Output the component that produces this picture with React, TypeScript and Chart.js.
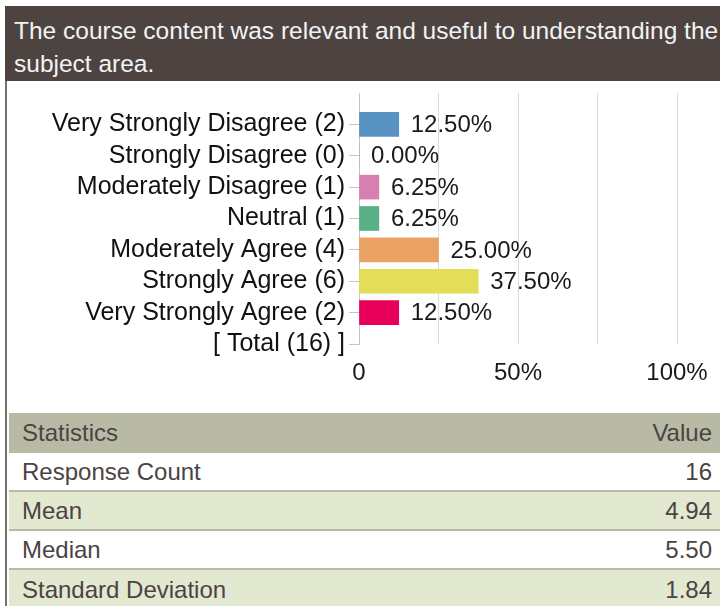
import React, { useEffect, useRef } from "react";
import { Chart, registerables } from "chart.js";

Chart.register(...registerables);

const titleText = "The course content was relevant and useful to understanding the subject area.";

const answerNames = [
  "Very Strongly Disagree",
  "Strongly Disagree",
  "Moderately Disagree",
  "Neutral",
  "Moderately Agree",
  "Strongly Agree",
  "Very Strongly Agree",
];
const answerCounts = [2, 0, 1, 1, 4, 6, 2];
const answerPercents = [12.5, 0, 6.25, 6.25, 25, 37.5, 12.5];
const totalCount = 16;
const barColors = ["#5792c2", "#9aa6d8", "#d97fb0", "#58b185", "#eaa264", "#e3dd58", "#e8005b"];

const xTickValues = [0, 25, 50, 75, 100];
const xTickLabels = ["0", "", "50%", "", "100%"];

const statNames = ["Response Count", "Mean", "Median", "Standard Deviation"];
const statValues = ["16", "4.94", "5.50", "1.84"];

const FONT = '"Liberation Sans", Arial, Helvetica, sans-serif';

const valueLabelPlugin = {
  id: "valueLabels",
  afterDatasetsDraw(chart: any) {
    const ctx = chart.ctx;
    const meta = chart.getDatasetMeta(0);
    const data = chart.data.datasets[0].data;
    ctx.save();
    ctx.font = `24px ${FONT}`;
    ctx.fillStyle = "#1a1a1a";
    ctx.textAlign = "left";
    ctx.textBaseline = "middle";
    meta.data.forEach((el: any, i: number) => {
      const v = data[i];
      if (v === null || v === undefined) return;
      ctx.fillText(`${Number(v).toFixed(2)}%`, el.x + 12, el.y + 1);
    });
    ctx.restore();
  },
};

function BarChart() {
  const ref = useRef<HTMLCanvasElement | null>(null);
  useEffect(() => {
    if (!ref.current) return;
    const labels = [
      "",
      ...answerNames.map((n, i) => `${n} (${answerCounts[i]})`),
      `[ Total (${totalCount}) ]`,
    ];
    const values: (number | null)[] = [null, ...answerPercents, null];
    const colors = ["transparent", ...barColors, "transparent"];
    const chart = new Chart(ref.current, {
      type: "bar",
      data: {
        labels,
        datasets: [
          {
            data: values as any,
            backgroundColor: colors,
            borderWidth: 0,
            barThickness: 24,
          },
        ],
      },
      options: {
        indexAxis: "y",
        animation: false,
        responsive: false,
        maintainAspectRatio: false,
        layout: { padding: { left: 0, right: 43, top: 12, bottom: 0 } },
        plugins: {
          legend: { display: false },
          tooltip: { enabled: false },
          title: { display: false },
        },
        scales: {
          x: {
            type: "linear",
            min: 0,
            max: 100,
            afterFit: (s: any) => {
              s.height = 69;
              s.paddingLeft = 0;
              s.paddingRight = 0;
            },
            afterBuildTicks: (s: any) => {
              s.ticks = xTickValues.map((v) => ({ value: v }));
            },
            ticks: {
              autoSkip: false,
              maxRotation: 0,
              padding: 15,
              color: "#1a1a1a",
              font: { family: FONT, size: 24 },
              callback: (value: any) => {
                const idx = xTickValues.indexOf(Number(value));
                return idx >= 0 ? xTickLabels[idx] : "";
              },
            },
            grid: {
              color: "#dadada",
              lineWidth: 1,
              drawTicks: false,
            },
            border: { display: false },
          },
          y: {
            type: "category",
            offset: false,
            afterFit: (s: any) => {
              s.width = 352;
              s.paddingTop = 0;
              s.paddingBottom = 0;
            },
            ticks: {
              autoSkip: false,
              padding: 4,
              color: "#111111",
              font: { family: FONT, size: 25 },
            },
            grid: {
              offset: false,
              drawOnChartArea: false,
              drawTicks: true,
              tickLength: 10,
              tickColor: (ctx: any) => (ctx.index === 0 ? "rgba(0,0,0,0)" : "#c4c4c4"),
            },
            border: { display: true, color: "#c4c4c4", width: 1 },
          },
        },
      },
      plugins: [valueLabelPlugin],
    });
    return () => chart.destroy();
  }, []);
  return (
    <canvas
      ref={ref}
      width={713}
      height={332}
      style={{ position: "absolute", left: 7, top: 81, width: 713, height: 332, display: "block" }}
    />
  );
}

export default function App() {
  const textColor = "#4a4442";
  return (
    <div
      style={{
        position: "absolute",
        left: 0,
        top: 0,
        width: 720,
        height: 606,
        overflow: "hidden",
        background: "#ffffff",
        fontFamily: FONT,
      }}
    >
      <div
        style={{
          position: "absolute",
          left: 5,
          top: 6,
          width: 715,
          height: 75,
          boxSizing: "border-box",
          padding: "8px 0 0 9px",
          background: "#4d4442",
          color: "#f3f3f3",
          fontSize: 24.5,
          lineHeight: "33px",
          overflow: "hidden",
        }}
      >
        {titleText}
      </div>
      <div
        style={{ position: "absolute", left: 5, top: 81, width: 2, height: 525, background: "#76716f" }}
      />
      <BarChart />
      <div style={{ position: "absolute", left: 9, top: 413, width: 711, color: textColor, fontSize: 24 }}>
        <div
          style={{
            height: 40,
            background: "#b8baa5",
            display: "flex",
            alignItems: "center",
            justifyContent: "space-between",
            padding: "0 8px 0 13px",
            boxSizing: "border-box",
          }}
        >
          <span>Statistics</span>
          <span>Value</span>
        </div>
        {statNames.map((name, i) => (
          <div
            key={name}
            style={{
              height: 39,
              background: i % 2 === 1 ? "#e3e8d1" : "#ffffff",
              borderBottom: i < statNames.length - 1 ? "2px solid #b8baa5" : "none",
              display: "flex",
              alignItems: "center",
              justifyContent: "space-between",
              padding: "0 8px 0 13px",
              boxSizing: "border-box",
            }}
          >
            <span>{name}</span>
            <span>{statValues[i]}</span>
          </div>
        ))}
      </div>
    </div>
  );
}
